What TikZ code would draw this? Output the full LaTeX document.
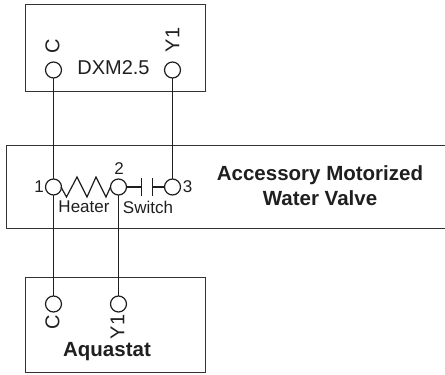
\documentclass[tikz,border=0pt]{standalone}
\usepackage{fontspec}
\setmainfont{Liberation Sans}
\definecolor{ink}{HTML}{1F1F1F}
\definecolor{edge}{HTML}{333333}
\tikzset{
  term/.style={circle,draw=ink,line width=1.2pt,minimum size=16pt,inner sep=0pt,outer sep=0pt},
  box/.style={draw=edge,line width=1.1pt,fill=none},
  wire/.style={draw=ink,line width=1.2pt},
  lab/.style={text=ink,inner sep=0pt,font=\fontsize{17}{19}\selectfont},
  biglab/.style={text=ink,inner sep=0pt,font=\fontsize{20}{22}\selectfont},
  boldlab/.style={text=ink,inner sep=0pt,align=center,font=\fontsize{20.5}{25}\selectfont\bfseries}
}
\begin{document}
\begin{tikzpicture}[x=1pt,y=-1pt]
\useasboundingbox (0,0) rectangle (445,375);
\path[box] (25.5,4.5) rectangle (205.5,91.5);
\path[box] (445,145.5) -- (6.5,145.5) -- (6.5,228.5) -- (445,228.5);
\path[box] (25.5,277.5) rectangle (205.5,372.5);
\node[term] (tc) at (53.5,70) {};
\node[term] (ty) at (172.5,70) {};
\node[term] (t1) at (53.5,187) {};
\node[term] (t2) at (118.5,187) {};
\node[term] (t3) at (172.5,187) {};
\node[term] (ac) at (53.5,304) {};
\node[term] (ay) at (118.5,304) {};
\node[biglab,rotate=90] (lc) at (52.5,46) {C};
\node[biglab,rotate=90] (ly) at (172.5,40) {Y1};
\node[biglab] (dxm) at (113.5,68) {DXM2.5};
\node[lab] (n1) at (39,187) {1};
\node[lab] (n2) at (119,169) {2};
\node[lab] (n3) at (187.5,187) {3};
\node[lab] (heater) at (84,207) {Heater};
\node[lab] (switch) at (148,207) {Switch};
\node[boldlab] (title) at (320,186) {Accessory Motorized\\Water Valve};
\node[biglab,rotate=90] (lac) at (52.5,322) {C};
\node[biglab,rotate=90] (lay) at (117.5,327) {Y1};
\node[boldlab] (aq) at (107,352) {Aquastat};
\draw[wire] (tc) -- (t1);
\draw[wire] (ty) -- (t3);
\draw[wire] (t1) -- (ac);
\draw[wire] (t2) -- (ay);
\draw[wire,line join=miter] (t1.east) ++(-0.5,0) -- ++(5.5,10) -- (77,177) -- (87,197) -- (96,177) -- (106,197) -- (t2.west);
\coordinate (pa) at (141.5,187);
\coordinate (pb) at (152.5,187);
\draw[wire] (t2) -- (pa);
\draw[wire] (pb) -- (t3);
\draw[wire] (141.5,178) -- (141.5,196);
\draw[wire] (152.5,178) -- (152.5,196);
\end{tikzpicture}
\end{document}
